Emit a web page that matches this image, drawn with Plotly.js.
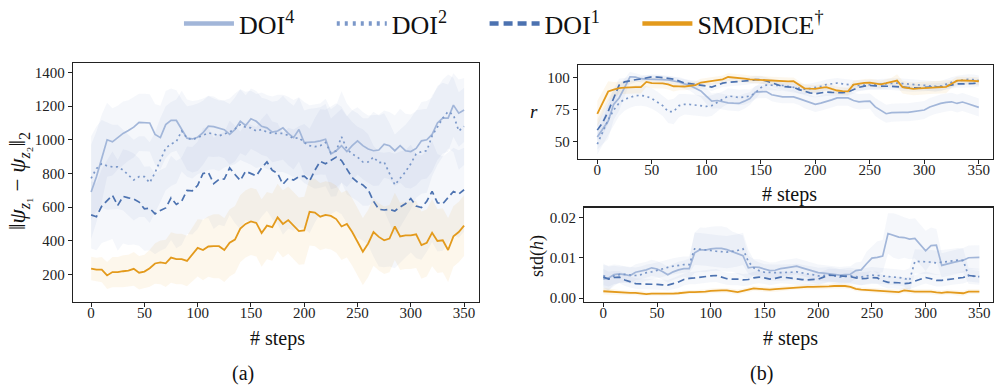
<!DOCTYPE html>
<html>
<head>
<meta charset="utf-8">
<script src="https://cdn.plot.ly/plotly-3.0.1.min.js"></script>
<style>html,body{margin:0;padding:0;background:#fff;}#chart{width:994px;height:387px;}</style>
</head>
<body>
<div id="chart"></div>
<script>
// ---------- data ----------
const steps = [0,5,10,15,20,25,30,35,40,45,50,55,60,65,70,75,80,85,90,95,100,105,110,115,120,125,130,135,140,145,150,155,160,165,170,175,180,185,190,195,200,205,210,215,220,225,230,235,240,245,250,255,260,265,270,275,280,285,290,295,300,305,310,315,320,325,330,335,340,345,350];

const seriesNames = ["DOI<sup>4</sup>", "DOI<sup>2</sup>", "DOI<sup>1</sup>", "SMODICE<sup>†</sup>"];

// (a) ||psi_z1 - psi_z2||_2
const distDOI4 = [690,780,890,1000,988,1013,1038,1055,1075,1104,1104,1100,1032,1013,1090,1115,1115,1061,1010,1005,1015,1042,1081,1078,1070,1060,1032,1061,1110,1085,1125,1110,1080,1071,1046,1052,1071,1038,1013,1061,984,984,988,994,1003,916,935,965,930,965,994,965,945,935,939,974,965,935,965,935,930,949,994,1000,1032,1100,1129,1129,1206,1158,1177];
const distDOI2 = [771,829,858,845,839,839,820,790,761,781,781,745,805,880,950,975,990,1052,1010,1000,1015,1026,1040,1035,1023,1035,1046,1065,1090,1075,1071,1052,1061,1046,1038,1038,1038,1026,1007,1013,984,965,959,965,984,922,935,1018,945,916,897,868,868,897,864,868,800,732,771,810,858,916,930,935,1023,1080,1129,1168,1148,1052,1080];
const distDOI1 = [554,543,606,640,670,610,664,655,648,630,590,593,560,580,595,655,616,635,700,697,730,800,806,740,765,767,833,794,758,813,800,786,833,868,819,800,736,771,761,781,784,755,819,872,858,877,897,877,825,775,748,732,703,635,587,583,587,577,601,620,651,606,597,635,693,626,620,655,693,678,703];
const distSMODICE = [235,229,229,194,214,214,219,222,233,210,217,237,265,272,266,300,291,291,280,320,358,345,366,368,368,345,388,407,472,500,515,506,446,490,481,539,500,523,490,457,461,572,568,543,554,548,529,485,500,452,394,335,384,452,423,403,413,485,426,432,432,438,374,388,448,399,403,345,426,452,490];
const distDOI4Spread = [280,270,260,220,200,190,190,180,180,170,170,170,180,190,200,190,180,180,190,200,200,190,180,180,170,170,180,190,190,180,180,180,170,170,180,180,190,190,190,190,190,200,200,200,210,210,220,220,210,210,200,200,200,210,210,200,200,210,220,220,220,220,230,230,220,220,210,200,190,200,190];
const distDOI2Spread = [250,250,260,260,250,250,240,240,240,240,240,240,240,250,250,250,250,240,230,230,220,220,220,210,210,200,200,210,210,210,220,220,220,220,220,230,230,230,230,240,240,240,250,250,260,260,270,270,270,260,260,260,260,270,280,290,300,300,290,280,270,260,250,250,240,230,230,220,220,230,230];
const distDOI1Spread = [200,200,220,240,260,270,280,280,270,260,250,250,240,240,240,250,260,260,260,260,260,270,270,270,270,280,280,290,290,290,290,290,290,290,290,300,300,300,300,300,310,310,310,310,320,320,320,320,320,330,330,330,330,330,340,340,340,340,330,320,320,310,310,300,300,290,280,270,260,260,250];
const distSMODICESpread = [70,70,75,80,90,90,95,95,100,100,100,110,120,130,140,150,150,150,150,160,170,180,180,190,190,190,200,200,200,200,200,200,200,200,200,200,200,200,200,200,200,200,200,200,200,200,200,200,200,200,200,200,200,200,200,200,200,200,200,200,200,200,200,200,200,190,190,190,180,180,180];

// (b) top: r
const rDOI4 = [53.6,60,66,79,84,92,100.5,100.2,99,98.7,98.7,98.5,98.2,98,97.3,96.4,95,93.7,91.5,89.5,85.5,81.5,82,81,80.2,79.9,79.7,81.5,83.5,88.5,89,89,86.5,85.5,84.8,84.8,84.8,83.5,82,80.5,79,80,81,82.5,84,84,84,82,81,81.3,81.5,77,74,71.7,72.5,72.8,72.8,72.8,73.2,73.8,74.6,77,78.5,79.7,80.5,81,79.7,80.8,79.5,78,76.6];
const rDOI2 = [48,57,67,74.5,80,83,84.3,85.8,86,85.3,83.5,81,78,73.4,73.4,78,79,78.9,78.4,77.9,77.4,78,80.5,83,85.5,85,84.3,84.7,85.5,88,92,94,94,93.8,93.7,93,92.4,91.5,90.8,91.3,91.9,93,94.4,95.2,95.6,95,94.3,93.9,93.7,94,94.2,94.5,94.8,95.2,95.5,95.6,95.2,94.8,94.5,94.2,93.8,93.4,93.1,93.2,94.8,96.2,97.2,97.9,98.5,98.2,97.5];
const rDOI1 = [58.9,65,73.5,84,94,96.5,97.5,98.2,98.8,99.6,100.4,100.3,100,99.3,98.7,97.3,95.6,95.2,94.7,94,93.3,92.4,94,95.5,96.2,96.4,96.7,97.1,97.5,98.2,98.3,97.2,95.7,94.2,93,92.6,92.4,90.5,89,88,87.3,88,88.6,88.3,88.1,88.1,88.6,90.5,92.3,93.2,93.7,93.4,93.1,93.1,93.1,93,92.5,92.1,91.8,91.6,92.2,92.4,92.1,92.6,93.3,94.2,94.9,94.9,94.9,95.3,95.7];
const rSMODICE = [71.6,80,89,90.5,91.6,92,92.4,92.4,92.4,96.5,95.5,95.4,95.4,94.5,93.1,93,92.9,93.5,94,96,96.5,97,98,98.5,100.3,100,99.5,99,98.5,98.2,98,97.6,97.3,97,96.8,96.9,97,94,91.5,91.2,91.1,91.8,92.4,91,89.8,89.3,89.1,94.4,95.2,95.7,96,95.5,94.6,95.5,96.8,97.5,92.4,91.6,91.1,91.4,91.6,92,92.4,92.5,92.6,95,97.5,97.6,97.7,97.3,97];
const rDOI4Spread = [10,12,14,12,10,7,4,3,3,3,3,3,3,3,3,4,4,4,5,5,6,6,6,6,6,6,6,6,5,5,5,5,5,5,5,5,5,5,6,6,6,6,6,6,6,6,6,6,6,6,6,7,7,7,7,7,7,7,7,7,7,7,7,7,7,7,7,7,7,7,7];
const rDOI2Spread = [8,10,12,12,10,9,8,8,8,8,8,8,8,9,10,9,8,8,8,8,8,8,7,6,6,6,6,6,5,5,4,4,4,4,4,4,4,4,4,4,4,4,4,4,4,4,4,4,4,4,4,4,4,4,4,4,4,4,4,4,4,4,4,4,4,4,4,4,4,4,4];
const rDOI1Spread = [8,10,10,8,5,3,3,2,2,2,2,2,2,2,2,2,3,3,3,3,3,3,3,3,3,3,3,3,3,3,3,3,3,3,3,3,3,3,3,3,3,3,3,3,3,3,3,3,3,3,3,3,3,3,3,3,3,3,3,3,3,3,3,3,3,3,3,3,3,3,3];
const rSMODICESpread = [10,9,8,6,5,5,5,5,5,4,4,4,4,4,4,3,3,3,3,3,3,3,3,3,3,3,3,3,3,3,3,3,3,3,3,3,3,3,3,3,3,3,3,3,3,3,3,3,3,3,3,3,3,3,3,5,5,5,5,5,5,5,5,5,5,3,3,3,3,3,3];

// (b) bottom: std(h)
const hDOI4 = [0.0047,0.005,0.0058,0.006,0.0058,0.0056,0.0064,0.0067,0.007,0.0075,0.0072,0.0066,0.0058,0.0065,0.007,0.0073,0.0073,0.0112,0.012,0.0119,0.0122,0.0123,0.0123,0.012,0.0115,0.011,0.0105,0.0075,0.0077,0.0076,0.0072,0.0068,0.0069,0.0073,0.0075,0.0077,0.0079,0.0075,0.0071,0.0067,0.0063,0.0062,0.006,0.0059,0.0057,0.0058,0.0059,0.0068,0.007,0.0085,0.0099,0.0101,0.0104,0.016,0.0155,0.0151,0.015,0.0146,0.0148,0.0133,0.0117,0.013,0.0131,0.0081,0.0085,0.0088,0.0091,0.0094,0.01,0.0101,0.0101];
const hDOI2 = [0.0056,0.0048,0.0055,0.0058,0.0059,0.0057,0.0056,0.0058,0.0063,0.0065,0.0069,0.0072,0.0076,0.0079,0.0081,0.0083,0.0083,0.0122,0.0121,0.012,0.0118,0.0116,0.0115,0.0114,0.0116,0.0118,0.0122,0.009,0.0075,0.0068,0.0064,0.0063,0.0063,0.0063,0.0063,0.0064,0.0065,0.0062,0.006,0.0058,0.0055,0.0056,0.0057,0.0055,0.0052,0.0054,0.0055,0.0053,0.0052,0.0055,0.0057,0.0056,0.0055,0.0053,0.0052,0.0051,0.0049,0.0044,0.0091,0.0091,0.009,0.0089,0.0087,0.0089,0.009,0.0092,0.0094,0.0093,0.0055,0.0054,0.0053];
const hDOI1 = [0.0052,0.0047,0.0051,0.0052,0.0045,0.004,0.0036,0.0035,0.0035,0.0035,0.0034,0.0033,0.0032,0.0036,0.004,0.0046,0.0049,0.005,0.0052,0.0053,0.0055,0.0056,0.0052,0.0048,0.0047,0.0047,0.0045,0.0046,0.005,0.0052,0.005,0.0047,0.0049,0.0052,0.0051,0.0049,0.0048,0.0046,0.0045,0.0046,0.0047,0.0052,0.0057,0.0056,0.0055,0.0054,0.0053,0.005,0.0048,0.0049,0.0051,0.005,0.0043,0.0039,0.0039,0.0038,0.0036,0.0037,0.0042,0.0047,0.0051,0.0048,0.0044,0.0044,0.0046,0.0048,0.005,0.0051,0.0056,0.0054,0.0053];
const hSMODICE = [0.0017,0.0016,0.0015,0.0014,0.0013,0.0013,0.0013,0.0012,0.001,0.0011,0.0011,0.001,0.001,0.0011,0.0012,0.0014,0.0015,0.0015,0.0015,0.0016,0.0018,0.0019,0.0019,0.0019,0.0017,0.0015,0.0018,0.0021,0.0024,0.0023,0.0022,0.0021,0.0022,0.0023,0.0024,0.0026,0.0027,0.0028,0.0028,0.0028,0.0028,0.0028,0.0029,0.003,0.003,0.003,0.0028,0.0023,0.0021,0.002,0.0019,0.0018,0.0017,0.0016,0.0015,0.0015,0.0019,0.0017,0.0016,0.0016,0.0016,0.0016,0.0014,0.0013,0.0015,0.0014,0.0012,0.0012,0.0016,0.0016,0.0016];
const hDOI4Spread = [0.0035,0.003,0.0025,0.0022,0.002,0.002,0.002,0.002,0.002,0.002,0.002,0.002,0.002,0.002,0.002,0.002,0.0025,0.005,0.0055,0.0055,0.0055,0.0055,0.0055,0.0055,0.005,0.005,0.005,0.003,0.002,0.002,0.002,0.002,0.002,0.002,0.002,0.002,0.002,0.002,0.002,0.002,0.002,0.002,0.002,0.002,0.002,0.002,0.002,0.002,0.002,0.003,0.003,0.004,0.004,0.005,0.0055,0.0055,0.005,0.005,0.005,0.005,0.005,0.0045,0.004,0.003,0.003,0.003,0.003,0.003,0.003,0.003,0.003];
const hDOI2Spread = [0.003,0.003,0.0025,0.002,0.002,0.002,0.002,0.002,0.002,0.002,0.002,0.002,0.002,0.002,0.002,0.002,0.002,0.004,0.004,0.004,0.004,0.004,0.004,0.004,0.004,0.004,0.004,0.003,0.002,0.002,0.002,0.002,0.002,0.002,0.002,0.002,0.002,0.002,0.002,0.002,0.002,0.002,0.002,0.002,0.002,0.002,0.002,0.002,0.002,0.002,0.002,0.002,0.002,0.002,0.002,0.002,0.002,0.003,0.003,0.003,0.003,0.003,0.003,0.003,0.003,0.003,0.003,0.003,0.002,0.002,0.002];
const hDOI1Spread = [0.002,0.0018,0.0016,0.0015,0.0015,0.0014,0.0013,0.0013,0.0013,0.0013,0.0013,0.0013,0.0013,0.0014,0.0015,0.0015,0.0015,0.0016,0.0016,0.0016,0.0016,0.0016,0.0016,0.0015,0.0015,0.0015,0.0015,0.0015,0.0015,0.0015,0.0015,0.0015,0.0015,0.0015,0.0015,0.0015,0.0015,0.0015,0.0015,0.0015,0.0015,0.0016,0.0016,0.0016,0.0016,0.0016,0.0016,0.0016,0.0016,0.0016,0.0016,0.0015,0.0015,0.0015,0.0015,0.0015,0.0015,0.0015,0.0015,0.0015,0.0015,0.0015,0.0015,0.0015,0.0015,0.0015,0.0015,0.0015,0.0015,0.0015,0.0015];
const hSMODICESpread = [0.0008,0.0008,0.0007,0.0006,0.0006,0.0006,0.0006,0.0006,0.0005,0.0005,0.0005,0.0005,0.0005,0.0005,0.0005,0.0005,0.0005,0.0005,0.0005,0.0005,0.0006,0.0006,0.0006,0.0006,0.0006,0.0006,0.0006,0.0006,0.0006,0.0006,0.0006,0.0006,0.0006,0.0006,0.0006,0.0006,0.0006,0.0006,0.0006,0.0006,0.0006,0.0006,0.0006,0.0006,0.0006,0.0006,0.0006,0.0006,0.0006,0.0006,0.0006,0.0006,0.0006,0.0006,0.0006,0.0006,0.0006,0.0006,0.0006,0.0006,0.0006,0.0006,0.0006,0.0006,0.0006,0.0006,0.0006,0.0006,0.0006,0.0006,0.0006];

// ---------- styles ----------
const lineColors = ["#a2b6d9", "#7b98c9", "#4c72b0", "#e39a1c"];
const lineDash = ["solid", "2px,3.5px", "7px,4px", "solid"];
const legendDash = ["solid", "3px,5px", "9px,5px", "solid"];
const fillColors = ["rgba(76,114,176,0.055)", "rgba(76,114,176,0.055)", "rgba(76,114,176,0.055)", "rgba(222,143,5,0.075)"];
const FONT = "'Liberation Serif', serif";
const legendPad = "&nbsp;&nbsp;&nbsp;&nbsp;&nbsp;";

const panels = [
  {xa: "x", ya: "y", means: [distDOI4, distDOI2, distDOI1, distSMODICE], spreads: [distDOI4Spread, distDOI2Spread, distDOI1Spread, distSMODICESpread]},
  {xa: "x2", ya: "y2", means: [rDOI4, rDOI2, rDOI1, rSMODICE], spreads: [rDOI4Spread, rDOI2Spread, rDOI1Spread, rSMODICESpread]},
  {xa: "x3", ya: "y3", means: [hDOI4, hDOI2, hDOI1, hSMODICE], spreads: [hDOI4Spread, hDOI2Spread, hDOI1Spread, hSMODICESpread]}
];

const traces = [];
panels.forEach(p => {
  p.means.forEach((m, k) => {
    const s = p.spreads[k];
    const up = m.map((v, i) => v + s[i]);
    const lo = m.map((v, i) => v - s[i]);
    traces.push({
      x: steps.concat(steps.slice().reverse()),
      y: up.concat(lo.slice().reverse()),
      xaxis: p.xa, yaxis: p.ya, type: "scatter", mode: "lines",
      fill: "toself", fillcolor: fillColors[k], line: {width: 0, color: "rgba(0,0,0,0)"},
      showlegend: false, hoverinfo: "skip"
    });
  });
  p.means.forEach((m, k) => {
    traces.push({
      x: steps, y: m, xaxis: p.xa, yaxis: p.ya, type: "scatter", mode: "lines",
      line: {color: lineColors[k], width: k === 3 ? 1.8 : 1.7, dash: lineDash[k]},
      showlegend: false, name: seriesNames[k]
    });
  });
});
// legend entries (thicker samples)
seriesNames.forEach((n, k) => {
  traces.push({
    x: [null], y: [null], type: "scatter", mode: "lines", name: k < 3 ? n + legendPad : n,
    line: {color: lineColors[k], width: 4.5, dash: legendDash[k]},
    showlegend: true, xaxis: "x", yaxis: "y"
  });
});

const W = 994, H = 387;
function dx(px) { return px / W; }
function dy(pyFromTop) { return (H - pyFromTop) / H; }

const axisBase = {
  showline: true, mirror: true, linecolor: "#222", linewidth: 1.2,
  ticks: "outside", ticklen: 4, tickwidth: 1, tickcolor: "#222",
  showgrid: false, zeroline: false,
  tickfont: {family: FONT, size: 15, color: "#222"}
};
const xBase = Object.assign({}, axisBase, {ticklabelstandoff: -7});

const layout = {
  width: W, height: H,
  margin: {l: 0, r: 0, t: 0, b: 0},
  paper_bgcolor: "#fff", plot_bgcolor: "#fff",
  font: {family: FONT, color: "#111"},
  showlegend: true,
  legend: {
    orientation: "h", x: 0.507, xanchor: "center", y: dy(15), yanchor: "middle",
    font: {family: FONT, size: 26, color: "#111"}, itemwidth: 50,
    bgcolor: "rgba(0,0,0,0)"
  },
  xaxis: Object.assign({}, xBase, {domain: [dx(73), dx(479)], range: [-17, 364], tickvals: [0,50,100,150,200,250,300,350], anchor: "y"}),
  yaxis: Object.assign({}, axisBase, {domain: [dy(300), dy(55)], range: [36, 1458], tickvals: [200,400,600,800,1000,1200,1400], anchor: "x"}),
  xaxis2: Object.assign({}, xBase, {domain: [dx(578), dx(993)], range: [-17.7, 363], tickvals: [0,50,100,150,200,250,300,350], anchor: "y2"}),
  yaxis2: Object.assign({}, axisBase, {domain: [dy(153.7), dy(57.3)], range: [36.3, 109.7], tickvals: [50,75,100], anchor: "x2"}),
  xaxis3: Object.assign({}, xBase, {domain: [dx(584.3), dx(993)], range: [-17.7, 362.7], tickvals: [0,50,100,150,200,250,300,350], anchor: "y3"}),
  yaxis3: Object.assign({}, axisBase, {domain: [dy(300), dy(203.3)], range: [-0.00097, 0.02242], tickvals: [0, 0.01, 0.02], ticktext: ["0.00", "0.01", "0.02"], anchor: "x3"}),
  annotations: [
    {text: "‖<i>ψ</i><sub><i>z</i>₁</sub> − <i>ψ</i><sub><i>z</i>₂</sub>‖<sub>2</sub>", x: dx(19), y: dy(176), textangle: -90, font: {size: 23}},
    {text: "# steps", x: dx(277), y: dy(337), font: {size: 20}},
    {text: "# steps", x: dx(789), y: dy(190), font: {size: 20}},
    {text: "# steps", x: dx(790), y: dy(337), font: {size: 20}},
    {text: "<i>r</i>", x: dx(534), y: dy(105), font: {size: 19}},
    {text: "std(<i>h</i>)", x: dx(537), y: dy(253), textangle: -90, font: {size: 18}},
    {text: "(a)", x: dx(243), y: dy(373), font: {size: 20}},
    {text: "(b)", x: dx(761), y: dy(373), font: {size: 20}}
  ].map(a => Object.assign({xref: "paper", yref: "paper", showarrow: false, xanchor: "center", yanchor: "middle"}, a, {font: Object.assign({family: FONT, color: "#111"}, a.font)}))
};

Plotly.newPlot("chart", traces, layout, {staticPlot: true, displayModeBar: false});
</script>
</body>
</html>
